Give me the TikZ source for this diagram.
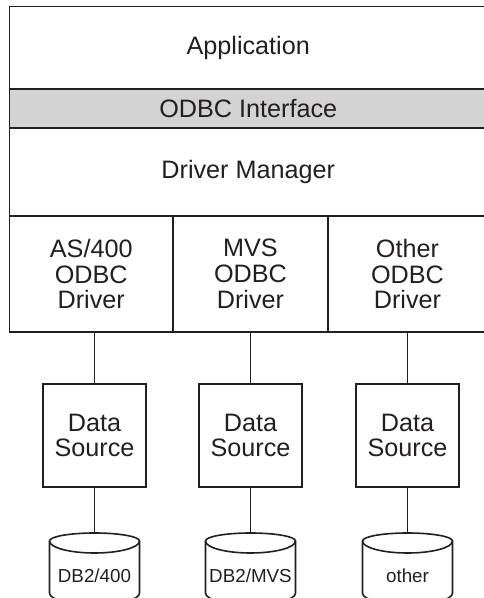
\documentclass[tikz,border=0pt]{standalone}
\usepackage{fontspec}
\setmainfont{Liberation Sans}
\usetikzlibrary{positioning}

\definecolor{ink}{RGB}{35,31,32}
\definecolor{ifacegray}{RGB}{211,211,211}
\newcommand{\layerfont}{\fontsize{25.2}{25.8}\selectfont}
\newcommand{\dbfont}{\fontsize{18.8}{19}\selectfont}

\tikzset{
	layer/.style={draw=ink, text=ink, line width=1.6pt, inner sep=0pt, outer sep=0pt, font=\layerfont, align=center},
	dsbox/.style={draw=ink, text=ink, line width=1.6pt, inner sep=0pt, minimum size=103pt, font=\layerfont, align=center},
	dbline/.style={draw=ink, line width=1.6pt}
}

\begin{document}
\begin{tikzpicture}[x=1pt, y=1pt]
	\useasboundingbox (0,0) rectangle (484,598);
	% stack of layers
	\node[layer, minimum width=477.5pt, minimum height=82.5pt, anchor=north west] (app) at (9.5,591.5) {Application};
	\node[layer, fill=ifacegray, minimum width=477.5pt, minimum height=39pt, anchor=north] (iface) at (app.south) {ODBC Interface};
	\node[layer, minimum width=477.5pt, minimum height=88pt, anchor=north] (mgr) at (iface.south) {Driver Manager};
	% drivers
	\node[layer, minimum width=163.5pt, minimum height=116pt, anchor=north west] (drv1) at (mgr.south west) {AS/400\\ODBC\\Driver};
	\node[layer, minimum width=155pt, minimum height=116pt, anchor=north west] (drv2) at (drv1.north east) {MVS\\ODBC\\Driver};
	\node[layer, minimum width=159pt, minimum height=116pt, anchor=north west] (drv3) at (drv2.north east) {Other\\ODBC\\Driver};
	% data sources
	\node[dsbox] (ds1) at (94.5,162.5) {Data\\Source};
	\node[dsbox] (ds2) at (250.5,162.5) {Data\\Source};
	\node[dsbox] (ds3) at (407.5,162.5) {Data\\Source};
	\draw[dbline] (ds1.north |- drv1.south) -- (ds1.north);
	\draw[dbline] (ds2.north |- drv2.south) -- (ds2.north);
	\draw[dbline] (ds3.north |- drv3.south) -- (ds3.north);
	% databases
	\foreach \i/\x/\lbl in {1/94.5/{DB2/400}, 2/250.5/{DB2/MVS}, 3/407.5/{other}} {
		\draw[dbline] (\x-45,57) -- (\x-45,5) arc[start angle=180, end angle=360, x radius=45, y radius=12]
			-- (\x+45,57) arc[start angle=0, end angle=180, x radius=45, y radius=8] -- cycle;
		\draw[dbline] (\x-45,57) arc[start angle=180, end angle=360, x radius=45, y radius=12];
		\coordinate (cyltop\i) at (\x,65);
		\node[text=ink, font=\dbfont] (db\i) at (\x,22) {\lbl};
		\draw[dbline] (ds\i.south) -- (cyltop\i);
	}
\end{tikzpicture}
\end{document}
